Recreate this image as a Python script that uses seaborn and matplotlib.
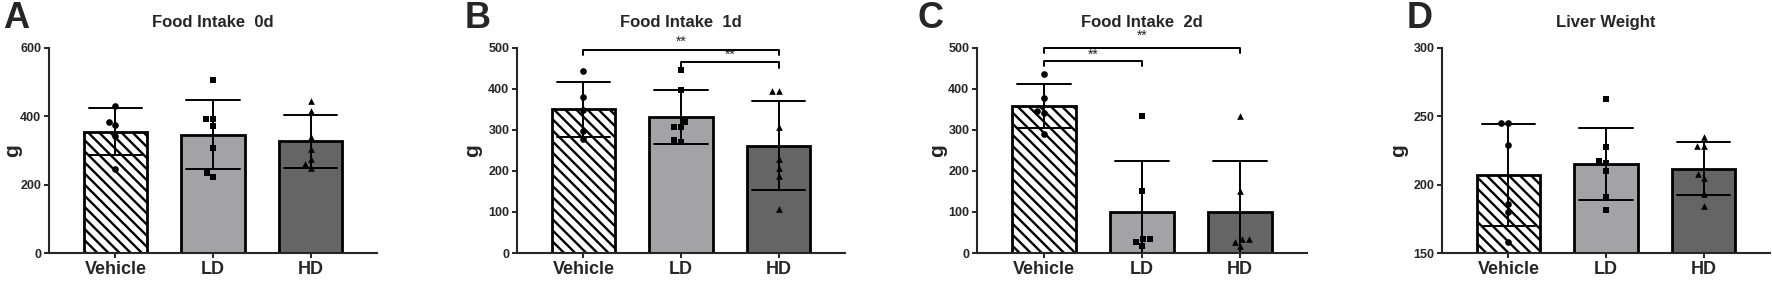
import numpy as np
import pandas as pd
import matplotlib
matplotlib.use("Agg")
import matplotlib.pyplot as plt
import seaborn as sns

# groups
groups = ["Vehicle", "LD", "HD"]

# Food intake 0d (g)
veh_0d = [430, 382, 375, 343, 245]
ld_0d = [506, 392, 392, 370, 306, 233, 222]
hd_0d = [443, 416, 340, 304, 274, 260, 248]

# Food intake 1d (g)
veh_1d = [444, 381, 349, 298, 277]
ld_1d = [445, 397, 319, 306, 306, 276, 271]
hd_1d = [394, 394, 307, 230, 207, 187, 108]

# Food intake 2d (g)
veh_2d = [435, 378, 345, 340, 290]
ld_2d = [334, 152, 35, 33, 27, 17]
hd_2d = [334, 151, 35, 33, 27, 16]

# Liver weight (g)
veh_lw = [245, 245, 229, 186, 180, 158]
ld_lw = [262.5, 227.6, 217.3, 215.9, 210, 190.9, 181.7]
hd_lw = [235, 228, 228, 208, 205, 193, 184]

titles = ["Food Intake  0d", "Food Intake  1d", "Food Intake  2d", "Liver Weight"]
letters = ["A", "B", "C", "D"]
ylims = [(0, 600), (0, 500), (0, 500), (150, 300)]
yticks = [[0, 200, 400, 600], [0, 100, 200, 300, 400, 500],
          [0, 100, 200, 300, 400, 500], [150, 200, 250, 300]]

# significance brackets: (group a, group b, bracket height, stars height)
sig_1d = [("Vehicle", "HD", 495, 514), ("LD", "HD", 464, 482)]
sig_2d = [("Vehicle", "HD", 500, 530), ("Vehicle", "LD", 468, 483)]
sigs = [[], sig_1d, sig_2d, []]

panels = [
    [veh_0d, ld_0d, hd_0d],
    [veh_1d, ld_1d, hd_1d],
    [veh_2d, ld_2d, hd_2d],
    [veh_lw, ld_lw, hd_lw],
]

bar_colors = ["white", "#a3a3a7", "#656565"]
markers = ["o", "s", "^"]

sns.set_style("ticks")
plt.rcParams['font.family'] = ['Liberation Sans', 'DejaVu Sans']
plt.rcParams['hatch.linewidth'] = 1.7
plt.rcParams['hatch.color'] = 'black'

W, H = 1772, 283
fig = plt.figure(figsize=(W / 100, H / 100), dpi=100)

# axes left/right edges in pixels, label x offsets (axes fraction), letter x
ax_lr = [(49, 377), (517, 845), (977, 1307), (1442, 1770)]
ylab_x = [-0.082, -0.107, -0.091, -0.104]
letter_x = [3, 465, 918, 1407]
ax_top, ax_bot = 47.7, 253

for i, vals in enumerate(panels):
    l, r = ax_lr[i]
    ax = fig.add_axes([l / W, 1 - ax_bot / H, (r - l) / W, (ax_bot - ax_top) / H])

    df = pd.DataFrame({
        "group": np.repeat(groups, [len(v) for v in vals]),
        "g": np.concatenate(vals),
    })

    sns.barplot(data=df, x="group", y="g", order=groups, hue="group",
                palette=bar_colors, errorbar="sd", capsize=0.55, width=0.65,
                edgecolor="black", linewidth=2.0, legend=False,
                err_kws={"color": "black", "linewidth": 1.4}, ax=ax)
    ax.patches[0].set_hatch("\\\\\\")

    for grp, mk in zip(groups, markers):
        sub = df[df["group"] == grp]
        sns.swarmplot(data=sub, x="group", y="g", order=groups, marker=mk,
                      color="black", size=4.8, zorder=4, ax=ax)

    # significance brackets
    pos = {g: k for k, g in enumerate(groups)}
    span = ylims[i][1] - ylims[i][0]
    for a, b, yb, ys in sigs[i]:
        xa, xb = pos[a], pos[b]
        drop = 0.025 * span
        ax.plot([xa, xa, xb, xb], [yb - drop, yb, yb, yb - drop],
                color="black", lw=1.4, clip_on=False, zorder=5)
        ax.text((xa + xb) / 2, ys, "**", ha="center", va="center",
                fontsize=10, clip_on=False)

    ax.set_xlim(-0.68, 2.68)
    ax.set_ylim(*ylims[i])
    ax.set_yticks(yticks[i])
    ax.set_xlabel("")
    ax.set_ylabel("g", fontsize=15, fontweight="bold")
    ax.yaxis.set_label_coords(ylab_x[i], 0.5)
    ax.set_title(titles[i], fontsize=12, fontweight="bold", pad=15)
    sns.despine(ax=ax)
    for s in ["left", "bottom"]:
        ax.spines[s].set_linewidth(1.5)
    ax.tick_params(axis="y", labelsize=9, width=1.4, length=3.5, pad=2)
    ax.tick_params(axis="x", labelsize=13, width=1.4, length=3.5, pad=2)
    for t in ax.get_xticklabels() + ax.get_yticklabels():
        t.set_fontweight("bold")

    fig.text(letter_x[i] / W, 1 - 28 / H, letters[i], fontsize=26,
             fontweight="bold", ha="left", va="baseline")

fig.savefig("out.png", dpi=100)
